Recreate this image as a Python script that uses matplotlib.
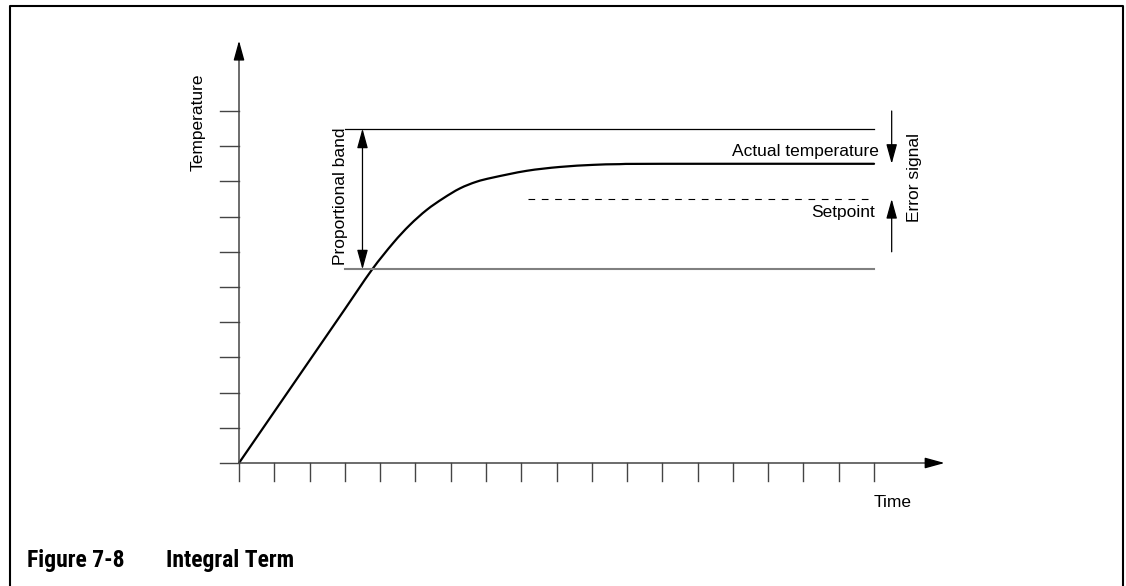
import matplotlib
matplotlib.use("Agg")
import matplotlib.pyplot as plt
from matplotlib import font_manager
from matplotlib.lines import Line2D
from matplotlib.path import Path
from matplotlib.patches import PathPatch

# --- Data (in tick units) ---
TIME_TICKS = list(range(0, 19))
TEMP_TICKS = list(range(0, 11))

# response curve: linear rise, then settles at the actual temperature
CURVE_T = [0.0, 3.0, 3.76, 4.37, 4.84, 5.32, 5.79, 6.26, 6.73, 7.20,
           8.15, 9.09, 10.04, 10.79, 12.0, 18.0]
CURVE_Y = [0.0, 4.37, 5.48, 6.25, 6.76, 7.19, 7.52, 7.80, 7.99, 8.11,
           8.30, 8.41, 8.47, 8.49, 8.5, 8.5]

BAND_TOP = 9.5
BAND_BOTTOM = 5.5
BAND_START, BAND_END = 3.0, 18.0
SETPOINT = 7.5
SETPOINT_START = 8.2
ACTUAL = 8.5
ERR_X = 18.5
ERR_TOP, ERR_BOTTOM = 10.0, 6.0

LABELS = {
    "y": "Temperature",
    "x": "Time",
    "band": "Proportional band",
    "actual": "Actual temperature",
    "setpoint": "Setpoint",
    "error": "Error signal",
}
CAPTION_NUM = "Figure 7-8"
CAPTION_TITLE = "Integral Term"


def smooth_path(xs, ys):
    # Catmull-Rom through the read points, drawn as cubic Bezier segments
    verts = [(xs[0], ys[0])]
    codes = [Path.MOVETO]
    n = len(xs)
    for i in range(n - 1):
        x0, y0 = (xs[i - 1], ys[i - 1]) if i > 0 else (xs[i], ys[i])
        x1, y1 = xs[i], ys[i]
        x2, y2 = xs[i + 1], ys[i + 1]
        x3, y3 = (xs[i + 2], ys[i + 2]) if i + 2 < n else (x2, y2)
        verts += [(x1 + (x2 - x0) / 6, y1 + (y2 - y0) / 6),
                  (x2 - (x3 - x1) / 6, y2 - (y3 - y1) / 6),
                  (x2, y2)]
        codes += [Path.CURVE4] * 3
    return Path(verts, codes)


# condensed bold face for the caption, whichever is installed
names = {f.name for f in font_manager.fontManager.ttflist}
cap_family = None
cap_size = 17
for cand in ["Liberation Sans Narrow", "DejaVu Sans Condensed", "Roboto Condensed",
             "Open Sans Condensed", "Noto Sans Condensed"]:
    if cand in names:
        cap_family = cand
        break
if cap_family is None:
    cap_family = "Liberation Sans"
    cap_size = 14.5

# --- Figure ---
W, H = 1126, 586
fig = plt.figure(figsize=(W / 100, H / 100), dpi=100)
ax = fig.add_axes([0, 0, 1, 1])
# origin at px (239, 463), one tick = 35.28 px horizontally, 35.2 px vertically
ax.set_xlim(-239 / 35.28, (W - 239) / 35.28)
ax.set_ylim(-(H - 463) / 35.2, 463 / 35.2)
ax.axis("off")

FONT = ["Liberation Sans", "DejaVu Sans"]
FS = 12.5
AXC = "#444444"

# frame around the figure (left, top, right)
fig.add_artist(Line2D([10 / W, 10 / W, 1123 / W, 1123 / W],
                      [0, 1 - 6 / H, 1 - 6 / H, 0],
                      transform=fig.transFigure, color="black", lw=1.5))

# axes with arrow heads
arrow = dict(arrowstyle="-|>,head_length=0.8,head_width=0.22", color="black",
             lw=1.0, shrinkA=0, shrinkB=0, mutation_scale=15)
ax.plot([0, 0], [0, 11.6], color=AXC, lw=1.1)
ax.plot([0, 19.6], [0, 0], color=AXC, lw=1.1)
ax.annotate("", xy=(0, 12.0), xytext=(0, 11.5), arrowprops=arrow)
ax.annotate("", xy=(20.0, 0), xytext=(19.5, 0), arrowprops=arrow)

# ticks
for t in TIME_TICKS:
    ax.plot([t, t], [0, -0.51], color=AXC, lw=1.0)
for t in TEMP_TICKS:
    ax.plot([-0.54, 0], [t, t], color=AXC, lw=1.0)

# proportional band limits
ax.plot([BAND_START, BAND_END], [BAND_TOP, BAND_TOP], color="black", lw=0.9)
ax.plot([BAND_START, BAND_END], [BAND_BOTTOM, BAND_BOTTOM], color="#808080", lw=1.5)

# setpoint
ax.plot([SETPOINT_START, BAND_END], [SETPOINT, SETPOINT], color="black", lw=0.8,
        dashes=[6, 6])

# temperature response
ax.add_patch(PathPatch(smooth_path(CURVE_T, CURVE_Y), facecolor="none",
                       edgecolor="black", lw=1.6, capstyle="round"))

# arrows
ax.annotate("", xy=(3.5, BAND_TOP), xytext=(3.5, BAND_BOTTOM),
            arrowprops=dict(arrowstyle="<|-|>,head_length=0.8,head_width=0.22",
                            color="black", lw=0.9, shrinkA=0, shrinkB=0,
                            mutation_scale=15))
ax.annotate("", xy=(ERR_X, ACTUAL), xytext=(ERR_X, ERR_TOP), arrowprops=dict(arrow, lw=0.9))
ax.annotate("", xy=(ERR_X, SETPOINT), xytext=(ERR_X, ERR_BOTTOM), arrowprops=dict(arrow, lw=0.9))

# labels
ax.text(-1.16, 9.67, LABELS["y"], rotation=90, ha="center", va="center",
        fontsize=FS, family=FONT)
ax.text(18.0, -1.25, LABELS["x"], ha="left", va="baseline", fontsize=FS, family=FONT)
ax.text(3.0, 7.58, LABELS["band"], rotation=90, rotation_mode="anchor",
        ha="center", va="baseline", fontsize=FS, family=FONT)
ax.text(18.13, 8.72, LABELS["actual"], ha="right", va="baseline", fontsize=FS, family=FONT)
ax.text(18.03, 6.99, LABELS["setpoint"], ha="right", va="baseline", fontsize=FS, family=FONT)
ax.text(19.27, 8.11, LABELS["error"], rotation=90, rotation_mode="anchor",
        ha="center", va="baseline", fontsize=FS, family=FONT)

# caption
CAP_FONT = [cap_family, "DejaVu Sans"]
fig.text(27 / W, 1 - 567.5 / H, CAPTION_NUM, ha="left", va="baseline",
         fontsize=cap_size, fontweight="bold", family=CAP_FONT)
fig.text(166 / W, 1 - 567.5 / H, CAPTION_TITLE, ha="left", va="baseline",
         fontsize=cap_size, fontweight="bold", family=CAP_FONT)

fig.savefig("out.png", dpi=100)
